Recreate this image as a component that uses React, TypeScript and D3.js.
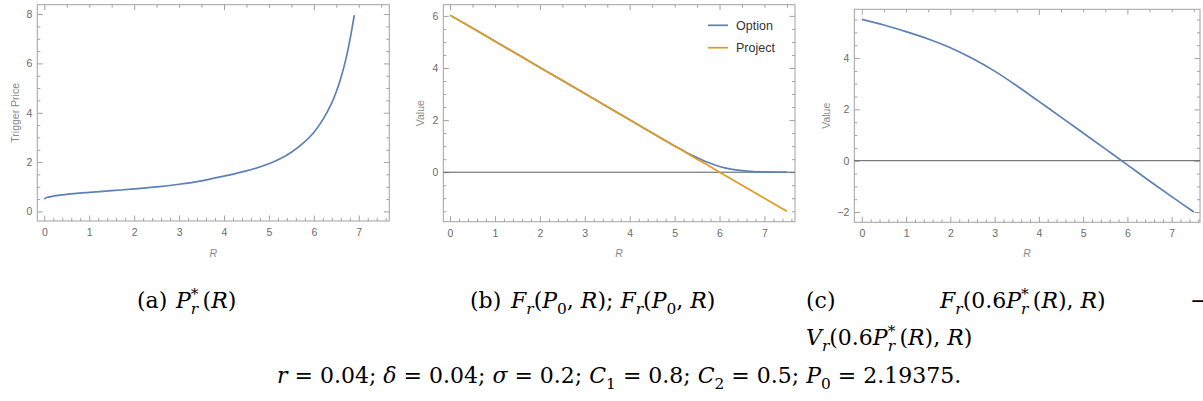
import React from 'react';
import * as d3 from 'd3';

const W = 1203;
const H = 401;
const BLUE = '#5e81b5';
const ORANGE = '#e19c24';

// (a) trigger price vs R
const rA = [0, 0.05, 0.2, 0.5, 1, 1.5, 2, 2.5, 3, 3.5, 4, 4.5, 5, 5.25, 5.5, 5.8, 6, 6.2, 6.4, 6.5, 6.6, 6.7, 6.8, 6.9];
const triggerPrice = [0.5, 0.56, 0.62, 0.69, 0.77, 0.84, 0.91, 0.99, 1.1, 1.24, 1.43, 1.64, 1.93, 2.13, 2.4, 2.83, 3.2, 3.72, 4.4, 4.85, 5.4, 6.07, 6.92, 7.96];

// (b) option / project value vs R
const rB = [0, 1, 2, 3, 4, 5, 5.25, 5.5, 5.75, 6, 6.25, 6.5, 6.75, 7, 7.25, 7.5];
const optionValue = [6.03, 5.03, 4.02, 3.02, 2.01, 1.01, 0.77, 0.56, 0.37, 0.22, 0.12, 0.06, 0.025, 0.01, 0.003, 0];
const projectValue = [6.03, 5.03, 4.02, 3.02, 2.01, 1.01, 0.76, 0.5, 0.26, 0.0, -0.25, -0.5, -0.75, -1.0, -1.25, -1.5];

// (c) difference vs R
const rC = [0, 0.5, 1, 1.5, 2, 2.5, 3, 3.5, 4, 4.5, 5, 5.5, 6, 6.5, 7, 7.5];
const diffValue = [5.51, 5.29, 5.03, 4.74, 4.4, 3.98, 3.49, 2.92, 2.31, 1.7, 1.08, 0.46, -0.16, -0.79, -1.4, -2.0];

const xTicks = [0, 1, 2, 3, 4, 5, 6, 7];
const xTopTicks = [0, 2, 4, 6];
const yTicksA = [0, 2, 4, 6, 8];
const yTicksB = [0, 2, 4, 6];
const yTicksC = [-2, 0, 2, 4];
const legendLabels = ['Option', 'Project'];

const panels = [
  {
    left: 37.3, right: 389.3, top: 4.7, bottom: 221,
    xDomain: [-0.156, 7.68], yDomain: [-0.39, 8.38],
    yTicks: yTicksA, yLabel: 'Trigger Price', yLabelX: 15, zero: false,
    series: [{ r: rA, v: triggerPrice, color: BLUE }],
  },
  {
    left: 443.3, right: 795, top: 4.7, bottom: 221.7,
    xDomain: [-0.15, 7.68], yDomain: [-1.9, 6.43],
    yTicks: yTicksB, yLabel: 'Value', yLabelX: 420, zero: true,
    series: [{ r: rB, v: optionValue, color: BLUE }, { r: rB, v: projectValue, color: ORANGE }],
    legend: true,
  },
  {
    left: 854.3, right: 1200, top: 9.3, bottom: 222.3,
    xDomain: [-0.17, 7.64], yDomain: [-2.4, 5.9],
    yTicks: yTicksC, yLabel: 'Value', yLabelX: 826, zero: true,
    series: [{ r: rC, v: diffValue, color: BLUE }],
  },
];

const FRAME = '#a2a2a2';
const LABEL = '#6b6b6b';

const styleAxis = (sel, color) => {
  sel.select('.domain').remove();
  sel.selectAll('line').attr('stroke', color);
  sel.selectAll('text').attr('fill', LABEL).style('font-family', 'Liberation Sans, Arial, sans-serif').style('font-size', '10.5px');
};

const drawPanel = (svg, p) => {
  const x = d3.scaleLinear().domain(p.xDomain).range([p.left, p.right]);
  const y = d3.scaleLinear().domain(p.yDomain).range([p.bottom, p.top]);
  const g = svg.append('g');

  const inX = v => v >= p.xDomain[0] && v <= p.xDomain[1];
  const inY = v => v >= p.yDomain[0] && v <= p.yDomain[1];
  const xMinor = d3.range(0, 40).map(i => i / 5).filter(v => inX(v) && !xTicks.includes(v));
  const xTopMinor = d3.range(0, 16).map(i => i / 2).filter(v => inX(v) && !xTopTicks.includes(v));
  const yMinor = d3.range(-10, 20).map(i => i / 2).filter(v => inY(v) && !p.yTicks.includes(v));

  // frame ticks, all pointing inward; labels only on bottom and left
  const axes = [
    [() => d3.axisBottom(x), p.bottom, 'x', xTicks, xMinor, true],
    [() => d3.axisTop(x), p.top, 'x', xTopTicks, xTopMinor, false],
    [() => d3.axisLeft(y), p.left, 'y', p.yTicks, yMinor, true],
    [() => d3.axisRight(y), p.right, 'y', p.yTicks, yMinor, false],
  ];
  axes.forEach(([mk, pos, dim, major, minor, labels]) => {
    const tr = dim === 'x' ? `translate(0,${pos})` : `translate(${pos},0)`;
    g.append('g').attr('transform', tr)
      .call(mk().tickValues(minor).tickSize(-3).tickFormat(() => ''))
      .call(s => styleAxis(s, FRAME));
    g.append('g').attr('transform', tr)
      .call(mk().tickValues(major).tickSize(-5.5).tickPadding(dim === 'x' ? 7.5 : 5)
        .tickFormat(labels ? d3.format('') : () => ''))
      .call(s => styleAxis(s, FRAME));
  });

  g.append('rect')
    .attr('x', p.left).attr('y', p.top)
    .attr('width', p.right - p.left).attr('height', p.bottom - p.top)
    .attr('fill', 'none').attr('stroke', FRAME).attr('stroke-width', 1);

  if (p.zero) {
    g.append('line')
      .attr('x1', p.left).attr('x2', p.right)
      .attr('y1', y(0)).attr('y2', y(0))
      .attr('stroke', '#5a5a5a').attr('stroke-width', 1);
  }

  const line = d3.line()
    .x(d => x(d[0]))
    .y(d => y(d[1]))
    .curve(d3.curveCatmullRom.alpha(0.5));

  p.series.forEach(s => {
    g.append('path')
      .datum(s.r.map((r, i) => [r, s.v[i]]))
      .attr('d', line)
      .attr('fill', 'none')
      .attr('stroke', s.color)
      .attr('stroke-width', 1.7);
  });

  // axis titles
  g.append('text')
    .attr('transform', `translate(${p.yLabelX},${(p.top + p.bottom) / 2}) rotate(-90)`)
    .attr('text-anchor', 'middle').attr('dy', '0.35em')
    .attr('fill', '#8a8a8a')
    .style('font-family', 'Liberation Sans, Arial, sans-serif').style('font-size', '10.5px')
    .text(p.yLabel);
  g.append('text')
    .attr('x', (p.left + p.right) / 2).attr('y', 257)
    .attr('text-anchor', 'middle')
    .attr('fill', '#8a8a8a')
    .style('font-family', 'Liberation Sans, Arial, sans-serif').style('font-size', '10.5px')
    .style('font-style', 'italic')
    .text('R');

  if (p.legend) {
    const lg = g.append('g');
    legendLabels.forEach((lab, i) => {
      const ly = 25.3 + i * 22.4;
      lg.append('line').attr('x1', 708).attr('x2', 728).attr('y1', ly).attr('y2', ly)
        .attr('stroke', p.series[i].color).attr('stroke-width', 1.7);
      lg.append('text').attr('x', 736).attr('y', ly).attr('dy', '0.35em')
        .attr('fill', '#333')
        .style('font-family', 'Liberation Sans, Arial, sans-serif').style('font-size', '12.5px')
        .text(lab);
    });
  }
};

// math caption helper: segments of [text, kind]; kind: '' upright, 'i' italic, 'sub', 'subi', 'sup', 'supsub'
const MathText = ({ x, y, segs, size = 22 }) => {
  let off = 0;
  const small = size * 0.7;
  return (
    <text x={x} y={y} fontFamily="DejaVu Serif, serif" fontSize={size} fill="#000">
      {segs.map(([t, k], i) => {
        let target = 0;
        let dx = 0;
        if (k === 'sub' || k === 'subi') target = size * 0.28;
        if (k === 'sup') target = -size * 0.4;
        if (k === 'supsub') { target = size * 0.28; dx = -small * 0.5; }
        const dy = target - off;
        off = target;
        const isSmall = k === 'sub' || k === 'subi' || k === 'sup' || k === 'supsub';
        const italic = k === 'i' || k === 'subi' || k === 'supsub';
        return (
          <tspan key={i} dy={dy} dx={dx || undefined} fontSize={isSmall ? small : size}
            fontStyle={italic ? 'italic' : 'normal'}>{t}</tspan>
        );
      })}
    </text>
  );
};

const Pstar = [['P', 'i'], ['*', 'sup'], ['r', 'supsub'], ['\u2009', '']];

const App = () => {
  const svgRef = React.useRef(null);

  React.useEffect(() => {
    const svg = d3.select(svgRef.current).select('g.plots');
    svg.selectAll('*').remove();
    panels.forEach(p => drawPanel(svg, p));
  }, []);

  return (
    <svg ref={svgRef} width={W} height={H} viewBox={`0 0 ${W} ${H}`}
      style={{ position: 'absolute', left: 0, top: 0, background: '#fff' }}>
      <rect width={W} height={H} fill="#fff" />
      <g className="plots" />
      <MathText x={137} y={308} segs={[['(a)', '']]} />
      <MathText x={176} y={308} segs={[...Pstar, ['(', ''], ['R', 'i'], [')', '']]} />
      <MathText x={470} y={308} segs={[['(b)', '']]} />
      <MathText x={511} y={308} segs={[
        ['F', 'i'], ['r', 'subi'], ['(', ''], ['P', 'i'], ['0', 'sub'], [', ', ''], ['R', 'i'], ['); ', ''],
        ['F', 'i'], ['r', 'subi'], ['(', ''], ['P', 'i'], ['0', 'sub'], [', ', ''], ['R', 'i'], [')', ''],
      ]} />
      <MathText x={806} y={308} segs={[['(c)', '']]} />
      <MathText x={940} y={308} segs={[
        ['F', 'i'], ['r', 'subi'], ['(0.6', ''], ...Pstar, ['(', ''], ['R', 'i'], ['), ', ''], ['R', 'i'], [')', ''],
      ]} />
      <MathText x={1190} y={308} segs={[['−', '']]} />
      <MathText x={806} y={345} segs={[
        ['V', 'i'], ['r', 'subi'], ['(0.6', ''], ...Pstar, ['(', ''], ['R', 'i'], ['), ', ''], ['R', 'i'], [')', ''],
      ]} />
      <MathText x={277} y={383} segs={[
        ['r', 'i'], [' = 0.04; ', ''], ['δ', 'i'], [' = 0.04; ', ''], ['σ', 'i'], [' = 0.2; ', ''],
        ['C', 'i'], ['1', 'sub'], [' = 0.8; ', ''], ['C', 'i'], ['2', 'sub'], [' = 0.5; ', ''],
        ['P', 'i'], ['0', 'sub'], [' = 2.19375.', ''],
      ]} />
    </svg>
  );
};

export default App;
